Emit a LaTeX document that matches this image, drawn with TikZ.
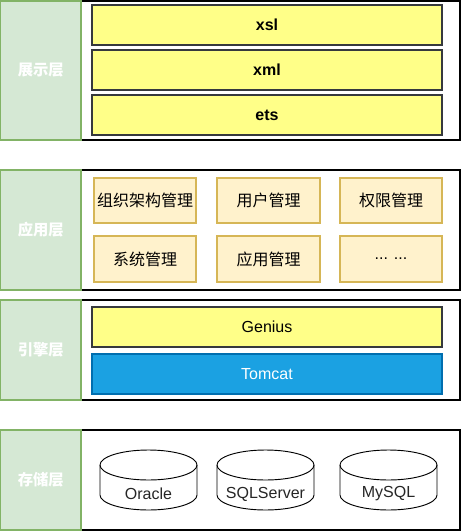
\documentclass[tikz,border=0pt]{standalone}
\usepackage{fontspec}
\setmainfont{Liberation Sans}
\newfontfamily\cjk{Noto Sans CJK SC}
\begin{document}
\begin{tikzpicture}[x=0.75pt,y=-0.75pt,
  layerlab/.style={draw=lgreenb,fill=lgreen,line width=0.8pt,text=white,font=\cjk\bfseries\fontsize{11.5}{13}\selectfont},
  frame/.style={draw=black,fill=white,line width=0.8pt},
  ybox/.style={draw=ydark,fill=yfill,line width=0.8pt,font=\fontsize{12}{14}\selectfont},
  abox/.style={draw=aborder,fill=afill,line width=0.8pt,font=\cjk\fontsize{12}{14}\selectfont},
  tbox/.style={draw=tborder,fill=tfill,line width=0.8pt,text=white,font=\fontsize{12}{14}\selectfont},
  dblab/.style={font=\fontsize{12}{14}\selectfont,text=black!85}
]
\definecolor{lgreen}{HTML}{D5E8D4}
\definecolor{lgreenb}{HTML}{82B366}
\definecolor{ydark}{HTML}{36393D}
\definecolor{yfill}{HTML}{FFFF88}
\definecolor{aborder}{HTML}{D6B656}
\definecolor{afill}{HTML}{FFF2CC}
\definecolor{tborder}{HTML}{006EAF}
\definecolor{tfill}{HTML}{1BA1E2}
\useasboundingbox (0,0) rectangle (461,531);

% layer 1
\path[frame] (81,1) rectangle (460,140);
\path[layerlab] (0.5,1) rectangle node (L1) {展示层} (81,140);
\path[ybox] (92,5) rectangle node[font=\bfseries\fontsize{12}{14}\selectfont] (xsl) {xsl} (442,45);
\path[ybox] (92,50) rectangle node[font=\bfseries\fontsize{12}{14}\selectfont] (xml) {xml} (442,90);
\path[ybox] (92,95) rectangle node[font=\bfseries\fontsize{12}{14}\selectfont] (ets) {ets} (442,135);

% layer 2
\path[frame] (81,170) rectangle (460,290);
\path[layerlab] (0.5,170) rectangle node (L2) {应用层} (81,290);
\path[abox] (94,178) rectangle node (a1) {组织架构管理} (196,223);
\path[abox] (217,178) rectangle node (a2) {用户管理} (320,223);
\path[abox] (340,178) rectangle node (a3) {权限管理} (442,223);
\path[abox] (94,236) rectangle node (a4) {系统管理} (196,282);
\path[abox] (217,236) rectangle node (a5) {应用管理} (320,282);
\path[abox] (340,236) rectangle node[font=\fontsize{12}{14}\selectfont] (a6) {... ...} (442,282);

% layer 3
\path[frame] (81,300) rectangle (460,400);
\path[layerlab] (0.5,300) rectangle node (L3) {引擎层} (81,400);
\path[ybox] (92,307) rectangle node (gen) {Genius} (442,347);
\path[tbox] (92,354) rectangle node (tom) {Tomcat} (442,394);

% layer 4
\path[frame] (81,430) rectangle (460,530);
\path[layerlab] (0.5,430) rectangle node (L4) {存储层} (81,530);
\foreach \x/\w/\n/\t in {100/97/db1/Oracle,217/97/db2/SQLServer,340/97/db3/MySQL}{
  \pgfmathsetmacro\xr{\x+\w}
  \pgfmathsetmacro\xc{\x+\w/2}
  \pgfmathsetmacro\rx{\w/2}
  \draw[line width=0.7pt,fill=white] (\x,465) -- (\x,495)
    arc[start angle=180,end angle=360,x radius=\rx*0.75pt,y radius=15*0.75pt]
    -- (\xr,465)
    arc[start angle=0,end angle=180,x radius=\rx*0.75pt,y radius=15*0.75pt] -- cycle;
  \draw[line width=0.7pt] (\x,465) arc[start angle=180,end angle=360,x radius=\rx*0.75pt,y radius=15*0.75pt];
  \node[dblab] (\n) at (\xc,494) {\t};
}
\end{tikzpicture}
\end{document}
